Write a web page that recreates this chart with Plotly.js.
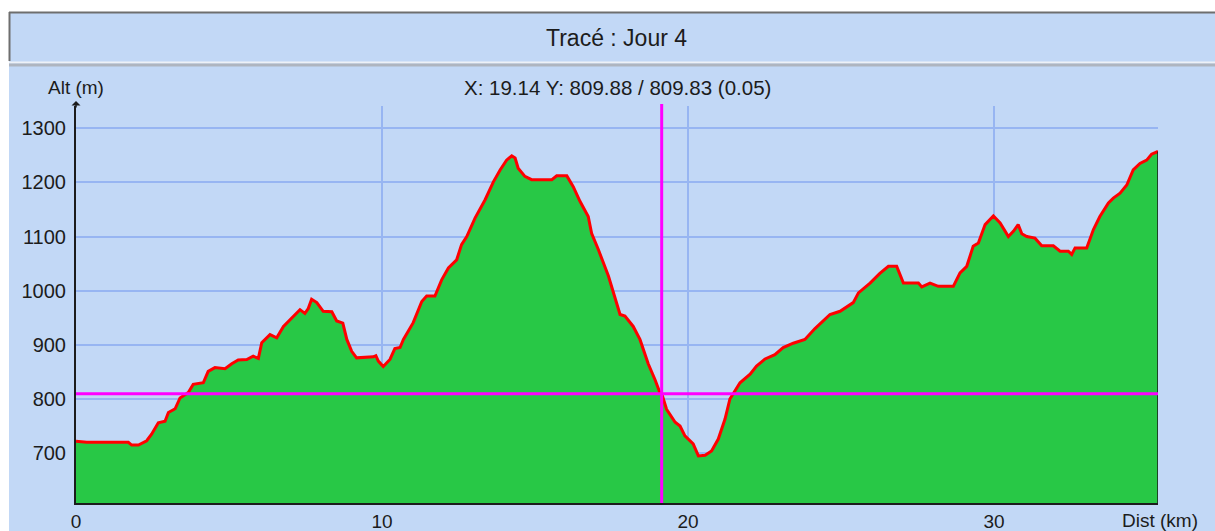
<!DOCTYPE html>
<html>
<head>
<meta charset="utf-8">
<script src="https://cdn.plot.ly/plotly-3.0.1.min.js"></script>
<style>html,body{margin:0;padding:0;background:#fff;}#chart{width:1215px;height:531px;}</style>
</head>
<body>
<div id="chart"></div>
<script>
// ---- data ----
const chartTitle = "Tracé : Jour 4";
const xLabel = "Dist (km)";
const yLabel = "Alt (m)";
const distKm = [0.00,0.35,1.71,1.82,2.04,2.31,2.47,2.69,2.91,3.02,3.24,3.40,3.67,3.83,4.16,4.32,4.54,4.87,5.09,5.30,5.58,5.79,5.96,6.07,6.34,6.56,6.78,7.10,7.32,7.48,7.59,7.70,7.87,8.08,8.36,8.52,8.72,8.85,9.01,9.17,9.72,9.80,9.88,10.04,10.26,10.42,10.59,10.70,11.02,11.30,11.46,11.73,11.95,12.17,12.44,12.60,12.77,13.04,13.37,13.64,13.86,14.07,14.24,14.35,14.45,14.67,14.89,15.55,15.71,16.04,16.25,16.47,16.74,16.85,17.07,17.40,17.56,17.78,17.94,18.21,18.43,18.70,18.92,19.08,19.14,19.30,19.58,19.74,19.90,20.17,20.34,20.56,20.77,20.99,21.21,21.37,21.70,22.03,22.24,22.52,22.84,23.11,23.44,23.82,24.15,24.37,24.64,24.97,25.40,25.57,25.95,26.27,26.55,26.82,27.04,27.53,27.64,27.91,28.18,28.67,28.89,29.11,29.32,29.49,29.71,29.98,30.20,30.47,30.64,30.79,30.91,31.07,31.34,31.56,31.94,32.16,32.43,32.54,32.65,33.03,33.25,33.46,33.74,33.90,34.12,34.34,34.55,34.77,34.99,35.15,35.36];
const altM = [722,720,720,715,715,723,735,756,759,775,782,802,812,827,830,851,858,856,865,872,873,879,875,904,919,913,934,953,965,958,967,984,978,962,961,944,940,910,888,876,878,880,870,860,873,893,895,910,941,980,990,990,1020,1042,1057,1085,1100,1134,1168,1201,1223,1241,1249,1245,1226,1211,1205,1205,1212,1212,1192,1165,1137,1106,1076,1027,996,956,953,934,910,865,836,812,810,781,757,750,732,717,695,696,704,726,763,800,830,846,861,874,882,895,903,910,930,941,956,962,978,996,1014,1032,1045,1045,1014,1014,1007,1014,1008,1008,1033,1045,1082,1088,1122,1138,1125,1100,1110,1122,1105,1100,1097,1083,1083,1073,1073,1067,1079,1079,1113,1137,1162,1171,1180,1195,1223,1235,1241,1252,1257];
const cursorX = 19.14;
const cursorY = 809.88;
const cursorY2 = 809.83;
const cursorDiff = 0.05;
const xTicks = [0,10,20,30];
const yTicks = [700,800,900,1000,1100,1200,1300];

// ---- layout helpers (pixel -> paper) ----
const W = 1215, H = 531;
const L = 76, R = 1158, T = 106, B = 503;
const xp = px => (px - L) / (R - L);
const yp = py => (B - py) / (B - T);
const BLUE = '#C2D8F6';
const FONT = 'Liberation Sans, Arial, sans-serif';
const TXT = '#1c1c1c';

const xMax = distKm[distKm.length - 1];
const yMin = 608, yMax = 1341;

const trace = {
  x: distKm, y: altM, type: 'scatter', mode: 'lines',
  fill: 'tozeroy', fillcolor: '#28C846',
  line: {color: '#FF0000', width: 3},
  hoverinfo: 'skip'
};

const shapes = [
  // white outer margins
  {type:'rect', xref:'paper', yref:'paper', x0: xp(-5), x1: xp(9), y0: yp(540), y1: yp(-5), fillcolor:'#FFFFFF', line:{width:0}, layer:'below'},
  {type:'rect', xref:'paper', yref:'paper', x0: xp(-5), x1: xp(1220), y0: yp(12), y1: yp(-5), fillcolor:'#FFFFFF', line:{width:0}, layer:'below'},
  // title panel border
  {type:'line', xref:'paper', yref:'paper', x0: xp(9), x1: xp(1220), y0: yp(12.5), y1: yp(12.5), line:{color:'#6E6E6E', width:2}, layer:'below'},
  {type:'line', xref:'paper', yref:'paper', x0: xp(9.5), x1: xp(9.5), y0: yp(12), y1: yp(61), line:{color:'#6E6E6E', width:2}, layer:'below'},
  // separator
  {type:'rect', xref:'paper', yref:'paper', x0: xp(9), x1: xp(1220), y0: yp(63.5), y1: yp(61.5), fillcolor:'#EDF1F7', line:{width:0}, layer:'below'},
  {type:'rect', xref:'paper', yref:'paper', x0: xp(9), x1: xp(1220), y0: yp(66.5), y1: yp(63.5), fillcolor:'#AEB5C0', line:{width:0}, layer:'below'},
  // right edge of the profile
  {type:'line', xref:'x', yref:'y', x0: xMax, x1: xMax, y0: yMin, y1: altM[altM.length-1], line:{color:'#1a1a1a', width:1.5}, layer:'above'},
  // crosshair
  {type:'line', xref:'x', yref:'paper', x0: cursorX, x1: cursorX, y0: 0, y1: yp(104), line:{color:'#FF00FF', width:3}, layer:'above'},
  {type:'line', xref:'paper', yref:'y', x0: 0, x1: 1, y0: cursorY, y1: cursorY, line:{color:'#FF00FF', width:3}, layer:'above'}
];

const cursorText = 'X: ' + cursorX.toFixed(2) + ' Y: ' + cursorY.toFixed(2) + ' / ' + cursorY2.toFixed(2) + ' (' + cursorDiff.toFixed(2) + ')';

const annotations = [
  {xref:'paper', yref:'paper', x: xp(616), y: yp(38), text: chartTitle, showarrow:false, xanchor:'center', yanchor:'middle', font:{family:FONT, size:23, color:TXT}},
  {xref:'paper', yref:'paper', x: xp(617), y: yp(87), text: cursorText, showarrow:false, xanchor:'center', yanchor:'middle', font:{family:FONT, size:20.5, color:TXT}},
  {xref:'paper', yref:'paper', x: xp(76), y: yp(87), text: yLabel, showarrow:false, xanchor:'center', yanchor:'middle', font:{family:FONT, size:19, color:TXT}},
  {xref:'paper', yref:'paper', x: xp(1160), y: yp(520), text: xLabel, showarrow:false, xanchor:'center', yanchor:'middle', font:{family:FONT, size:19, color:TXT}},
  // y axis arrow
  {xref:'paper', yref:'paper', x: xp(76), y: yp(101), ax: 0, ay: 8, text:'', showarrow:true, arrowhead:1, arrowsize:1, arrowwidth:1.5, arrowcolor:'#1c1c1c'}
];

const layout = {
  width: W, height: H,
  margin: {l: L, r: W - R, t: T, b: H - B, pad: 0},
  paper_bgcolor: BLUE, plot_bgcolor: BLUE,
  showlegend: false,
  xaxis: {
    range: [0, xMax], tickmode:'array', tickvals: xTicks, ticktext: xTicks.map(String),
    showgrid: true, gridcolor:'#97B5F2', gridwidth: 2, zeroline:false,
    showline: true, linecolor:'#1c1c1c', linewidth: 2,
    ticks:'', ticklabelstandoff: 0,
    tickfont: {family: FONT, size: 19, color: TXT}, fixedrange: true
  },
  yaxis: {
    range: [yMin, yMax], tickmode:'array', tickvals: yTicks, ticktext: yTicks.map(String),
    showgrid: true, gridcolor:'#97B5F2', gridwidth: 2, zeroline:false,
    showline: true, linecolor:'#1c1c1c', linewidth: 2,
    ticks:'', ticklabelstandoff: 4,
    tickfont: {family: FONT, size: 20, color: TXT}, fixedrange: true
  },
  shapes: shapes,
  annotations: annotations
};

Plotly.newPlot('chart', [trace], layout, {staticPlot: true, displayModeBar: false});
</script>
</body>
</html>
